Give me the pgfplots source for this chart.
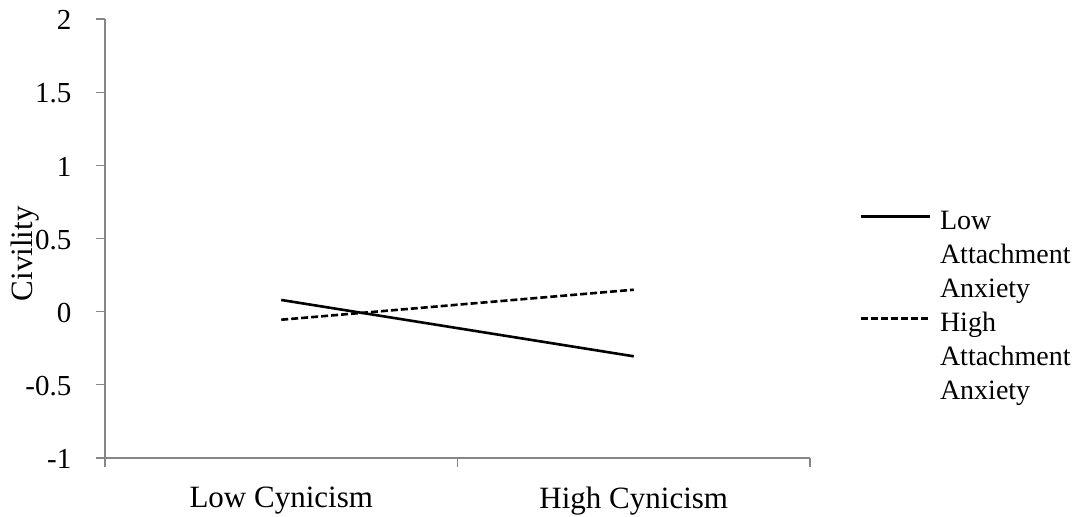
\documentclass[border=0pt]{standalone}
\usepackage{fontspec}
\setmainfont{Liberation Serif}
\usepackage{pgfplots}
\pgfplotsset{compat=1.18}
\definecolor{axisgray}{RGB}{134,134,134}
\begin{document}
\fontsize{14}{17}\selectfont
\begin{tikzpicture}
\path[use as bounding box] (-52.5pt,-29pt) rectangle (489pt,229pt);
\begin{axis}[name=ax, at={(0pt,0pt)}, anchor=south west, scale only axis, width=352.5pt, height=219.5pt,
  xmin=-0.5, xmax=1.5, ymin=-1, ymax=2,
  axis x line=bottom, axis y line=left,
  x axis line style={-, draw=axisgray, line width=0.6pt},
  y axis line style={-, draw=axisgray, line width=0.6pt},
  xtick={0,1}, xticklabels={Low Cynicism, High Cynicism},
  major x tick style={draw=none},
  minor xtick={-0.5,0.5,1.5},
  ytick={-1,-0.5,0,0.5,1,1.5,2},
  yticklabels={-1,-0.5,0,0.5,1,1.5,2},
  tick align=outside, major tick length=4.5pt, minor tick length=4.5pt,
  tick style={draw=axisgray, line width=0.6pt},
  minor tick style={draw=axisgray, line width=0.6pt},
  yticklabel style={anchor=east, xshift=-7.5pt, yshift=-0.6pt, font=\fontsize{14.5}{17}\selectfont},
  xticklabel style={anchor=north, yshift=-5pt, font=\fontsize{15.5}{18}\selectfont},
  ylabel={Civility},
  ylabel style={at={(axis description cs:-0.114,0.465)}, anchor=center, rotate=0, font=\fontsize{15.5}{18}\selectfont},
  legend style={at={(rel axis cs:1,1)}, anchor=north west, xshift=24.5pt, yshift=-93.1pt,
     draw=none, fill=none, inner sep=0pt, column sep=4.5pt, row sep=0pt,
     nodes={inner sep=0pt, text depth=}, cells={anchor=base west},
     font=\fontsize{14}{17}\selectfont},
  legend image code/.code={\draw[#1] (0pt,6.5pt) -- (34.5pt,6.5pt);},
]
\addplot[black, line width=1.3pt] coordinates {(0,0.08) (1,-0.305)};
\addlegendentry{\parbox[t]{66pt}{\raggedright\strut Low\\Attachment\\Anxiety\strut}}
\addplot[black, line width=1.3pt, dash pattern=on 3.5pt off 1.5pt] coordinates {(0,-0.055) (1,0.15)};
\addlegendentry{\parbox[t]{66pt}{\raggedright\strut High\\Attachment\\Anxiety\strut}}
\end{axis}
\end{tikzpicture}
\end{document}
